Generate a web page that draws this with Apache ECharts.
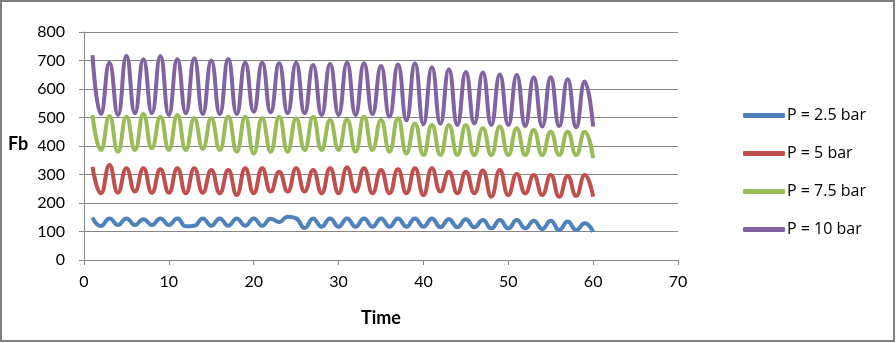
<!DOCTYPE html>
<html>
<head>
<meta charset="utf-8">
<script src="https://cdn.jsdelivr.net/npm/echarts@6/dist/echarts.min.js"></script>
<style>
html,body{margin:0;padding:0;background:#fff;}
#c{width:896px;height:343px;}
</style>
</head>
<body>
<div id="c"></div>
<script>
const times = [1,2,3,4,5,6,7,8,9,10,11,12,13,14,15,16,17,18,19,20,21,22,23,24,25,26,27,28,29,30,31,32,33,34,35,36,37,38,39,40,41,42,43,44,45,46,47,48,49,50,51,52,53,54,55,56,57,58,59,60];
const seriesNames = ['P = 2.5 bar','P = 5 bar','P = 7.5 bar','P = 10 bar'];
const p25 = [149,119,146,123,146,123,143,123,146,123,146,118,120,146,120,146,120,146,120,146,120,145,133,152,146,112,146,117,146,117,146,117,146,117,146,117,146,117,146,117,146,115,143,115,143,115,140,111,140,111,140,111,138,108,138,105,135,105,129,99];
const p5 = [327,234,333,236,322,240,322,236,318,236,322,234,322,236,316,234,316,228,322,234,322,240,310,240,322,240,316,234,322,234,325,240,322,234,316,234,318,234,322,228,322,240,310,234,310,234,314,222,316,228,302,234,298,228,298,222,295,225,298,222];
const p75 = [509,386,505,380,503,386,512,392,503,386,509,386,497,390,497,386,503,380,503,374,497,380,503,380,497,386,503,386,491,386,493,380,503,386,491,380,497,374,479,368,474,368,474,368,474,368,462,368,468,368,462,368,456,368,450,368,450,368,450,357];
const p10 = [719,512,692,509,717,515,704,515,716,509,705,515,708,512,700,512,705,512,692,520,692,518,690,515,692,515,684,509,688,509,692,509,690,512,681,503,686,490,690,476,676,478,669,474,660,479,658,474,651,474,649,470,640,468,641,470,634,466,626,468];
const xTicks = {min:0,max:70,interval:10};
const yTicks = {min:0,max:800,interval:100};
const colors = ['#4F81BD','#C0504D','#9BBB59','#8064A2'];

const allValues = [p25,p5,p75,p10];
const FONT = 'Lato';
const chart = echarts.init(document.getElementById('c'));
chart.setOption({
  animation:false,
  backgroundColor:'#fff',
  color:colors,
  grid:{left:84,right:218,top:32,bottom:83,containLabel:false},
  xAxis:{type:'value',min:xTicks.min,max:xTicks.max,interval:xTicks.interval,
    axisLine:{show:true,lineStyle:{color:'#868686',width:1}},
    axisTick:{show:true,length:5,inside:false,lineStyle:{color:'#868686'}},
    axisLabel:{color:'#000',fontFamily:FONT,fontSize:16,margin:14},
    splitLine:{show:false}},
  yAxis:{type:'value',min:yTicks.min,max:yTicks.max,interval:yTicks.interval,
    axisLine:{show:true,lineStyle:{color:'#868686',width:1}},
    axisTick:{show:true,length:5,lineStyle:{color:'#868686'}},
    axisLabel:{color:'#000',fontFamily:FONT,fontSize:16,margin:19},
    splitLine:{show:true,lineStyle:{color:'#868686',width:1}}},
  legend:{orient:'vertical',left:738,top:100,itemWidth:42,itemHeight:5,itemGap:17,
    icon:'roundRect',
    textStyle:{color:'#000',fontFamily:'Open Sans',fontSize:16,lineHeight:21,padding:[0,0,0,-3]},
    data:seriesNames},
  graphic:[
    {type:'rect',shape:{x:1,y:1,width:893,height:340},style:{fill:'none',stroke:'#7f7f7f',lineWidth:2},silent:true},
    {type:'text',left:8,top:135,style:{text:'Fb',fontFamily:FONT,fontSize:18,fontWeight:'bold',fill:'#000'}},
    {type:'text',left:361,top:309,style:{text:'Time',fontFamily:FONT,fontSize:18,fontWeight:'bold',fill:'#000'}}
  ],
  series: seriesNames.map((n,i)=>({
    name:n,type:'line',smooth:0.5,symbol:'none',showSymbol:false,
    lineStyle:{width:4,color:colors[i]},itemStyle:{color:colors[i]},
    data: times.map((t,k)=>[t,allValues[i][k]])
  }))
});
</script>
</body>
</html>
